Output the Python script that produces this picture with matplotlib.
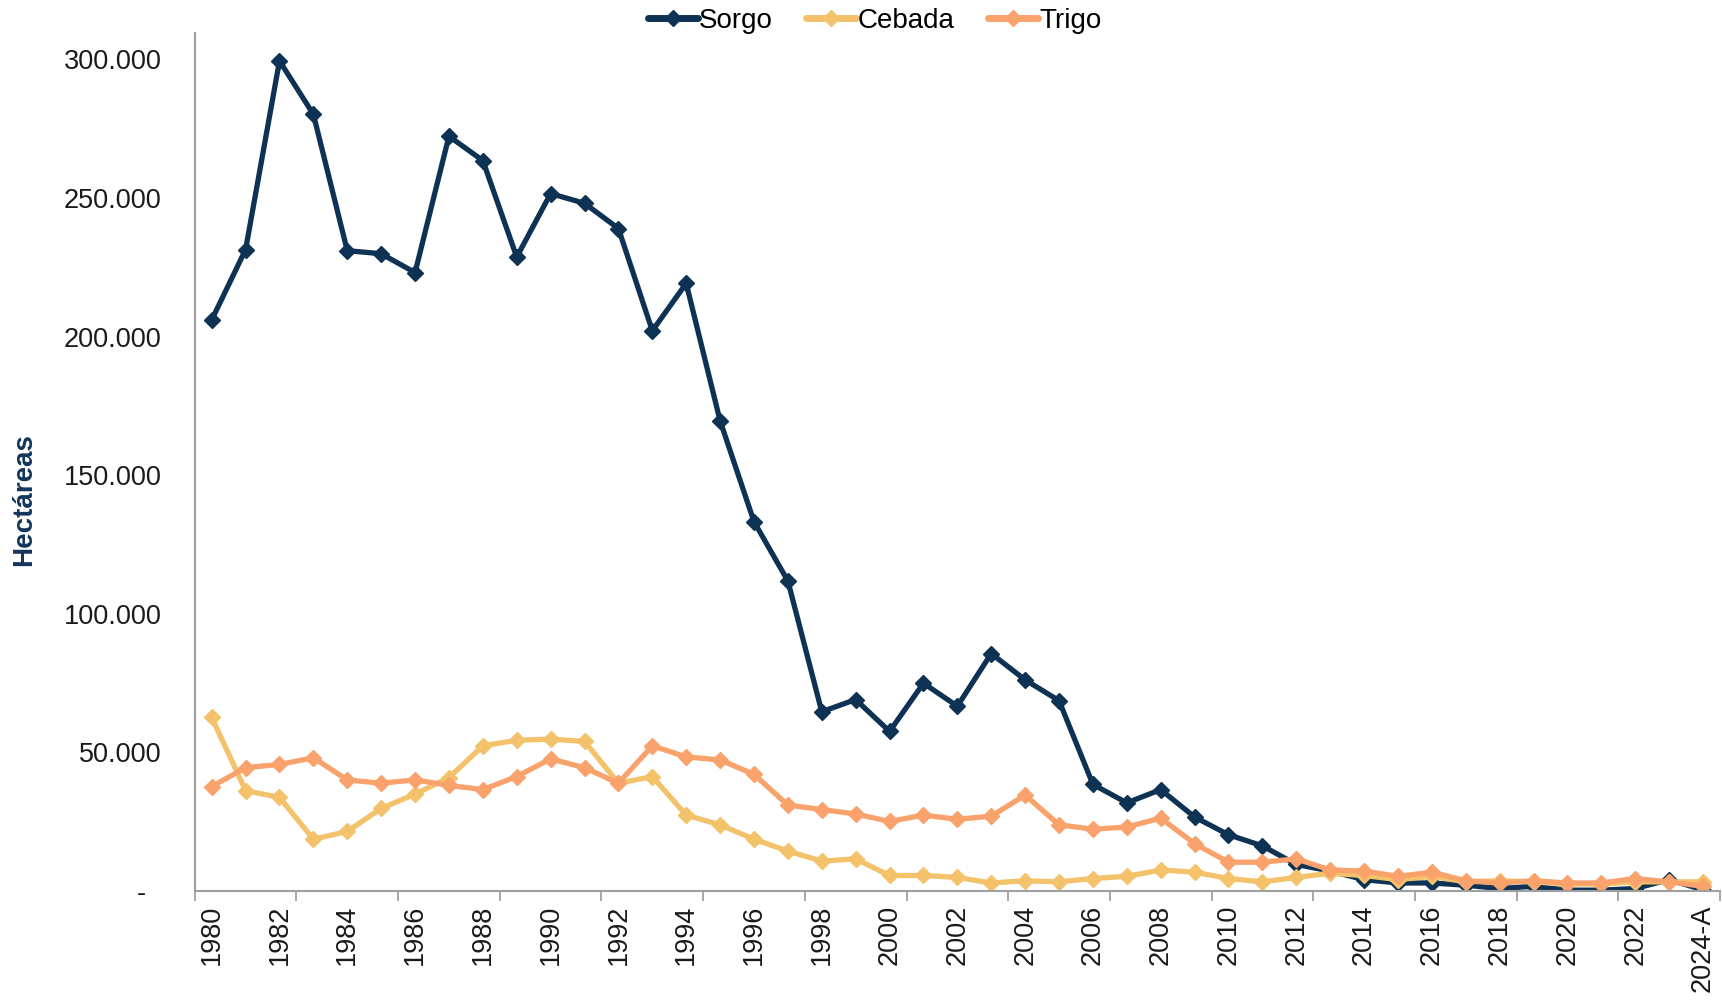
import matplotlib
matplotlib.use("Agg")
import matplotlib.pyplot as plt
from matplotlib.ticker import FixedLocator, FuncFormatter

years = list(range(1980, 2025))
year_labels = [str(y) if y != 2024 else "2024-A" for y in years]

sorgo = [206000, 231400, 299500, 280200, 231000, 229900, 223100, 272300, 263500, 228700,
         251600, 248100, 239000, 202100, 219200, 169600, 133200, 111800, 64600, 69000,
         57500, 74900, 66600, 85600, 76100, 68600, 38400, 31700, 36500, 26600,
         20200, 16200, 9500, 7100, 4000, 2800, 2800, 2000, 800, 1600,
         200, 200, 800, 4000, 300]
cebada = [62600, 36100, 33700, 18600, 21400, 29700, 34900, 40800, 52300, 54300,
          54700, 53900, 38800, 41200, 27300, 23800, 18600, 14300, 10700, 11500,
          5500, 5500, 4800, 2800, 3600, 3200, 4400, 5200, 7500, 6700,
          4400, 3200, 4800, 6300, 5500, 4000, 5200, 3200, 3600, 3200,
          2400, 2400, 3200, 3200, 3200]
trigo = [37600, 44400, 45600, 48000, 40000, 38800, 40000, 38000, 36500, 41200,
         47600, 44400, 38800, 52300, 48300, 47200, 42000, 30900, 29300, 27700,
         25000, 27300, 25800, 26900, 34500, 23800, 22200, 23000, 26200, 17000,
         10300, 10300, 11500, 7500, 7100, 5200, 6700, 3600, 2800, 3600,
         2800, 2800, 4400, 3200, 1600]

series_names = ["Sorgo", "Cebada", "Trigo"]
colors = ["#0E3254", "#F3C26B", "#F9A26C"]

plt.rcParams['font.family'] = ['Liberation Sans', 'DejaVu Sans']

fig = plt.figure(figsize=(17.22, 10.05), dpi=100)
ax = fig.add_axes([0.1131, 0.1137, 0.8857, 0.8533])

x = list(range(len(years)))
for vals, name, c in zip([sorgo, cebada, trigo], series_names, colors):
    ax.plot(x, vals, color=c, lw=3.8, marker='D', ms=8, label=name,
            solid_joinstyle='miter')

ax.set_xlim(-0.5, len(years) - 0.5)
ax.set_ylim(0, 309500)

# y axis
yt = [0, 50000, 100000, 150000, 200000, 250000, 300000]
ax.set_yticks(yt)
def yfmt(v, p):
    if v == 0:
        return "-  "
    return f"{int(v):,}".replace(",", ".")
ax.yaxis.set_major_formatter(FuncFormatter(yfmt))
ax.tick_params(axis='y', length=0, pad=24, labelsize=19.5, labelcolor='#1a1a1a')

# x axis: tick marks every 3 categories at boundaries, labels every 2
ax.xaxis.set_major_locator(FixedLocator([i - 0.5 for i in range(0, len(years) + 1, 3)]))
ax.xaxis.set_major_formatter(FuncFormatter(lambda v, p: ""))
ax.xaxis.set_minor_locator(FixedLocator(list(range(0, len(years), 2))))
ax.xaxis.set_minor_formatter(FuncFormatter(lambda v, p: year_labels[int(round(v))]))
ax.tick_params(axis='x', which='major', length=7, width=1.3, color='#A0A0A0', direction='out')
ax.tick_params(axis='x', which='minor', length=0, pad=10, labelsize=19.5,
               labelrotation=90, labelcolor='#1a1a1a')

for s in ['top', 'right']:
    ax.spines[s].set_visible(False)
for s in ['left', 'bottom']:
    ax.spines[s].set_color('#A0A0A0')
    ax.spines[s].set_linewidth(1.5)

fig.text(0.014, 0.503, "Hectáreas", rotation=90, ha='center', va='center',
         fontsize=20, fontweight='bold', color='#12355B')

leg = fig.legend(loc='center', bbox_to_anchor=(0.508, 0.979), ncol=3, frameon=False,
                 fontsize=20, handlelength=1.8, handletextpad=0.05, columnspacing=1.2)
for h in leg.get_lines():
    h.set_linewidth(5)
    h.set_solid_capstyle('round')

fig.savefig("out.png", dpi=100)
